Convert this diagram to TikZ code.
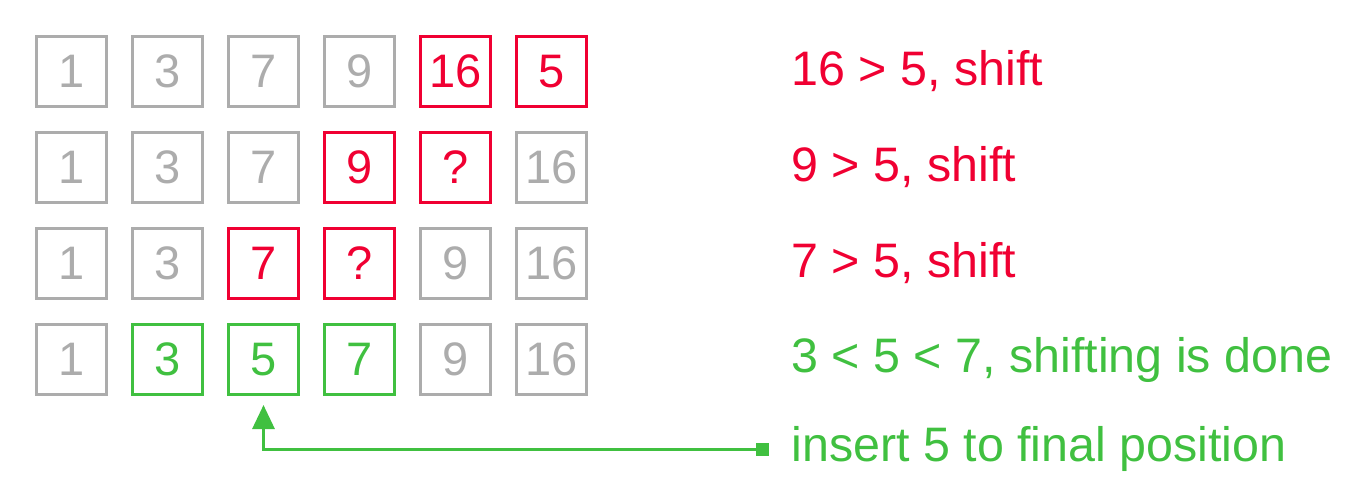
\documentclass[tikz,border=0pt]{standalone}
\usepackage{fontspec}
\setmainfont{Liberation Sans}
\usetikzlibrary{arrows.meta}
\definecolor{cellgray}{RGB}{172,172,172}
\definecolor{cellred}{RGB}{240,0,50}
\definecolor{cellgreen}{RGB}{64,192,64}
\begin{document}
\begin{tikzpicture}[x=0.5pt, y=-0.5pt, line width=1.5pt,
    cell/.style = {draw, minimum size=35pt, inner sep=0pt, font=\fontsize{23.5}{28}\selectfont},
    old/.style = {cell, draw=cellgray, text=cellgray},
    hot/.style = {cell, draw=cellred, text=cellred},
    ok/.style = {cell, draw=cellgreen, text=cellgreen},
    note/.style = {anchor=west, inner sep=0pt, font=\fontsize{24.2}{28}\selectfont}]
    \useasboundingbox (0,0) rectangle (1370,492);
    % erste Zeile
    \node[old] (a1) at (71.5,71.5) {1};
    \node[old] (a2) at (167.5,71.5) {3};
    \node[old] (a3) at (263.5,71.5) {7};
    \node[old] (a4) at (359.5,71.5) {9};
    \node[hot] (a5) at (455.5,71.5) {16};
    \node[hot] (a6) at (551.5,71.5) {5};
    % zweite Zeile
    \node[old] (b1) at (71.5,167.5) {1};
    \node[old] (b2) at (167.5,167.5) {3};
    \node[old] (b3) at (263.5,167.5) {7};
    \node[hot] (b4) at (359.5,167.5) {9};
    \node[hot] (b5) at (455.5,167.5) {?};
    \node[old] (b6) at (551.5,167.5) {16};
    % dritte Zeile
    \node[old] (c1) at (71.5,263.5) {1};
    \node[old] (c2) at (167.5,263.5) {3};
    \node[hot] (c3) at (263.5,263.5) {7};
    \node[hot] (c4) at (359.5,263.5) {?};
    \node[old] (c5) at (455.5,263.5) {9};
    \node[old] (c6) at (551.5,263.5) {16};
    % vierte Zeile
    \node[old] (d1) at (71.5,359.5) {1};
    \node[ok] (d2) at (167.5,359.5) {3};
    \node[ok] (d3) at (263.5,359.5) {5};
    \node[ok] (d4) at (359.5,359.5) {7};
    \node[old] (d5) at (455.5,359.5) {9};
    \node[old] (d6) at (551.5,359.5) {16};

    % Kommentare
    \node[note, text=cellred] (t1) at (790,71.5) {16 > 5, shift};
    \node[note, text=cellred] (t2) at (790,167.5) {9 > 5, shift};
    \node[note, text=cellred] (t3) at (790,263.5) {7 > 5, shift};
    \node[note, text=cellgreen] (t4) at (790,359.5) {3 < 5 < 7, shifting is done};
    \node[note, text=cellgreen] (t5) at (790,449) {insert 5 to final position};

    \node[fill=cellgreen, minimum size=6.5pt, inner sep=0pt] (mark) at (762,449) {};
    \draw[cellgreen, -{Triangle[width=11pt,length=12pt]}, shorten >=4.5pt] (mark.center) -| (d3);
\end{tikzpicture}
\end{document}
